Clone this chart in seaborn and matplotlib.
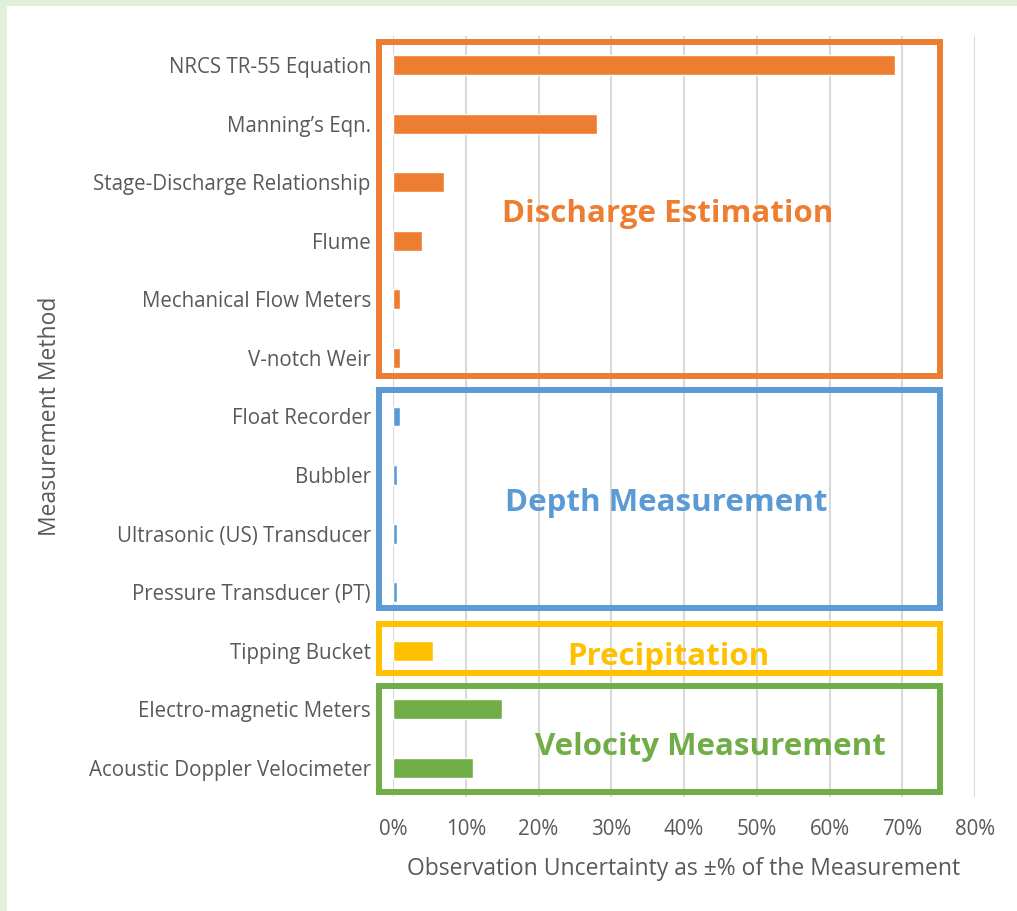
import matplotlib
matplotlib.use("Agg")
import matplotlib.pyplot as plt
from matplotlib.patches import Rectangle
import seaborn as sns
import pandas as pd

# Measurement methods, top to bottom, with their observation uncertainty (fraction)
methods = [
    "NRCS TR-55 Equation",
    "Manning\u2019s Eqn.",
    "Stage-Discharge Relationship",
    "Flume",
    "Mechanical Flow Meters",
    "V-notch Weir",
    "Float Recorder",
    "Bubbler",
    "Ultrasonic (US) Transducer",
    "Pressure Transducer (PT)",
    "Tipping Bucket",
    "Electro-magnetic Meters",
    "Acoustic Doppler Velocimeter",
]
uncertainty = [0.69, 0.28, 0.07, 0.04, 0.01, 0.01, 0.01, 0.005, 0.005, 0.005, 0.055, 0.15, 0.11]
group = ["Discharge Estimation"] * 6 + ["Depth Measurement"] * 4 + ["Precipitation"] + ["Velocity Measurement"] * 2

group_names = ["Discharge Estimation", "Depth Measurement", "Precipitation", "Velocity Measurement"]
group_colors = ["#ED7D31", "#5B9BD5", "#FFC000", "#70AD47"]
x_ticks = [0, 0.1, 0.2, 0.3, 0.4, 0.5, 0.6, 0.7, 0.8]
x_tick_labels = ["0%", "10%", "20%", "30%", "40%", "50%", "60%", "70%", "80%"]

color_of = dict(zip(group_names, group_colors))
df = pd.DataFrame({"method": methods, "uncertainty": uncertainty, "group": group})
bar_palette = {m: color_of[g] for m, g in zip(methods, group)}

sns.set_theme(style="white")
plt.rcParams["font.family"] = ["Open Sans", "DejaVu Sans"]
text_gray = "#595959"

fig = plt.figure(figsize=(10.17, 9.11), dpi=100)
fig.patch.set_facecolor("white")
# pale green frame along the top and left edges
fig.patches.append(Rectangle((0, 1 - 6 / 911), 1, 6 / 911, transform=fig.transFigure,
                             facecolor="#E2EFDA", edgecolor="none", zorder=0))
fig.patches.append(Rectangle((0, 0), 7 / 1017, 1, transform=fig.transFigure,
                             facecolor="#E2EFDA", edgecolor="none", zorder=0))

ax = fig.add_axes([393 / 1017, 1 - 797 / 911, 582 / 1017, 761 / 911])
sns.barplot(data=df, x="uncertainty", y="method", hue="method", palette=bar_palette,
            legend=False, width=0.34, orient="h", saturation=1, ax=ax, zorder=3)

ax.set_xlim(0, 0.8)
ax.set_ylim(len(methods) - 0.5, -0.5)
ax.set_xticks(x_ticks)
ax.set_xticklabels(x_tick_labels)
ax.grid(axis="x", color="#D9D9D9", linewidth=1.5, zorder=0)
ax.grid(axis="y", visible=False)
ax.set_axisbelow(True)
for s in ax.spines.values():
    s.set_visible(False)
ax.tick_params(axis="both", length=0, labelsize=14.8, labelcolor=text_gray)
ax.tick_params(axis="y", pad=16)
ax.tick_params(axis="x", pad=16)
ax.set_xlabel("Observation Uncertainty as \u00b1% of the Measurement", fontsize=16.5,
              color=text_gray, labelpad=12)
ax.set_ylabel("Measurement Method", fontsize=16.5, color=text_gray, labelpad=0)
ax.yaxis.set_label_coords(-(393 - 62) / 582, 0.5)

# outlined boxes grouping the methods, with group titles
boxes = [
    (-0.40, 5.31, 0.377, 2.54),
    (5.55, 9.27, 0.375, 7.47),
    (9.55, 10.39, 0.378, 10.10),
    (10.60, 12.42, 0.436, 11.64),
]
box_left, box_right = -0.019, 0.752
for (top, bottom, tx, ty), name, col in zip(boxes, group_names, group_colors):
    ax.add_patch(Rectangle((box_left, top), box_right - box_left, bottom - top,
                           fill=False, edgecolor=col, linewidth=4.3, clip_on=False, zorder=4))
    ax.text(tx, ty, name, color=col, fontsize=22.5, fontweight="bold",
            ha="center", va="center", zorder=5)

fig.savefig("out.png", dpi=100, facecolor="white")
